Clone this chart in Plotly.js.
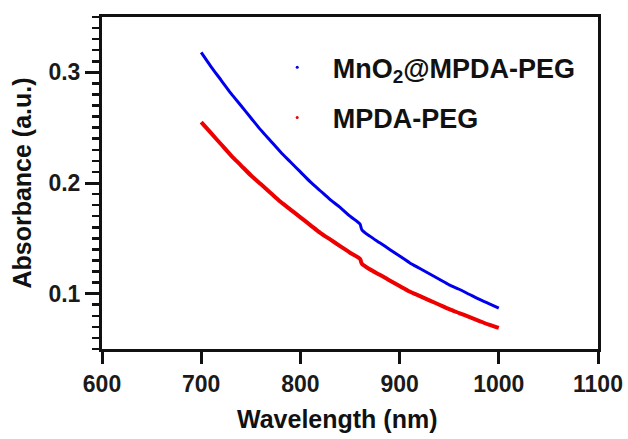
<!DOCTYPE html>
<html>
<head>
<meta charset="utf-8">
<script src="https://cdn.plot.ly/plotly-3.0.1.min.js"></script>
<style>html,body{margin:0;padding:0;background:#fff;}#chart{width:628px;height:439px;}</style>
</head>
<body>
<div id="chart"></div>
<script>
const wavelength = [700,710,720,730,740,750,760,770,780,790,800,810,820,830,840,850,860,862,870,880,890,900,910,920,930,940,950,960,970,980,990,1000];
const mno2MpdaPeg = [0.318,0.305,0.293,0.281,0.270,0.259,0.248,0.238,0.228,0.219,0.210,0.201,0.193,0.185,0.178,0.170,0.163,0.1577,0.152,0.146,0.140,0.134,0.128,0.123,0.118,0.113,0.108,0.104,0.0995,0.095,0.091,0.087];
const mpdaPeg = [0.255,0.245,0.235,0.225,0.216,0.207,0.199,0.191,0.183,0.176,0.169,0.162,0.155,0.149,0.143,0.137,0.1315,0.127,0.122,0.117,0.112,0.107,0.102,0.098,0.094,0.090,0.086,0.0825,0.079,0.0755,0.072,0.069];
const seriesNames = ['MnO<sub>2</sub>@MPDA-PEG','MPDA-PEG'];
const xTicks = [600,700,800,900,1000,1100];
const yTicks = [0.1,0.2,0.3];
const xTitle = 'Wavelength (nm)';
const yTitle = 'Absorbance (a.u.)';

const font = 'Liberation Sans, Arial, sans-serif';
const traces = [
  {x: wavelength, y: mno2MpdaPeg, mode: 'lines', line: {color: '#0000ee', width: 3, shape: 'spline', smoothing: 0.8}, showlegend: false, hoverinfo: 'skip'},
  {x: wavelength, y: mpdaPeg, mode: 'lines', line: {color: '#ee0000', width: 4, shape: 'spline', smoothing: 0.8}, showlegend: false, hoverinfo: 'skip'},
  {x: [null], y: [null], mode: 'markers', marker: {color: '#0000ee', size: 3}, name: seriesNames[0], legendgroup: 'a'},
  {x: [null], y: [null], mode: 'markers', marker: {color: '#ee0000', size: 3}, name: seriesNames[1], legendgroup: 'b'}
];
const layout = {
  width: 628, height: 439,
  margin: {l: 102, r: 30, t: 17, b: 90},
  paper_bgcolor: '#fff', plot_bgcolor: '#fff',
  font: {family: font, color: '#1a1a1a'},
  showlegend: true,
  legend: {x: 0.322, y: 0.921, xanchor: 'left', yanchor: 'top', bgcolor: 'rgba(0,0,0,0)',
           font: {family: font, size: 27, color: '#111', weight: 'bold'}, tracegroupgap: 12, itemwidth: 61},
  annotations: [
    {text: xTitle, xref: 'paper', yref: 'paper', x: 0.474, y: -0.211, xanchor: 'center', yanchor: 'middle', showarrow: false,
     font: {family: font, size: 25, color: '#111', weight: 'bold'}}
  ],
  xaxis: {
    range: [600, 1100], tickvals: xTicks, ticktext: xTicks.map(String),
    showgrid: false, zeroline: false, showline: true, linecolor: '#111', linewidth: 3, mirror: true,
    ticks: 'outside', ticklen: 12, tickwidth: 3, tickcolor: '#111',
    tickfont: {family: font, size: 23, color: '#1a1a1a', weight: 'bold'}
  },
  yaxis: {
    range: [0.05, 0.35], tickvals: yTicks, ticktext: yTicks.map(v => v.toFixed(1)),
    showgrid: false, zeroline: false, showline: true, linecolor: '#111', linewidth: 3, mirror: true,
    ticks: 'outside', ticklen: 14, tickwidth: 3, tickcolor: '#111',
    minor: {dtick: 0.01, ticks: 'outside', ticklen: 7, tickwidth: 2.5, tickcolor: '#111', showgrid: false},
    tickfont: {family: font, size: 23, color: '#1a1a1a', weight: 'bold'},
    title: {text: yTitle, font: {family: font, size: 25, color: '#111', weight: 'bold'}, standoff: 10}
  }
};
Plotly.newPlot('chart', traces, layout, {displayModeBar: false, staticPlot: true});
</script>
</body>
</html>
